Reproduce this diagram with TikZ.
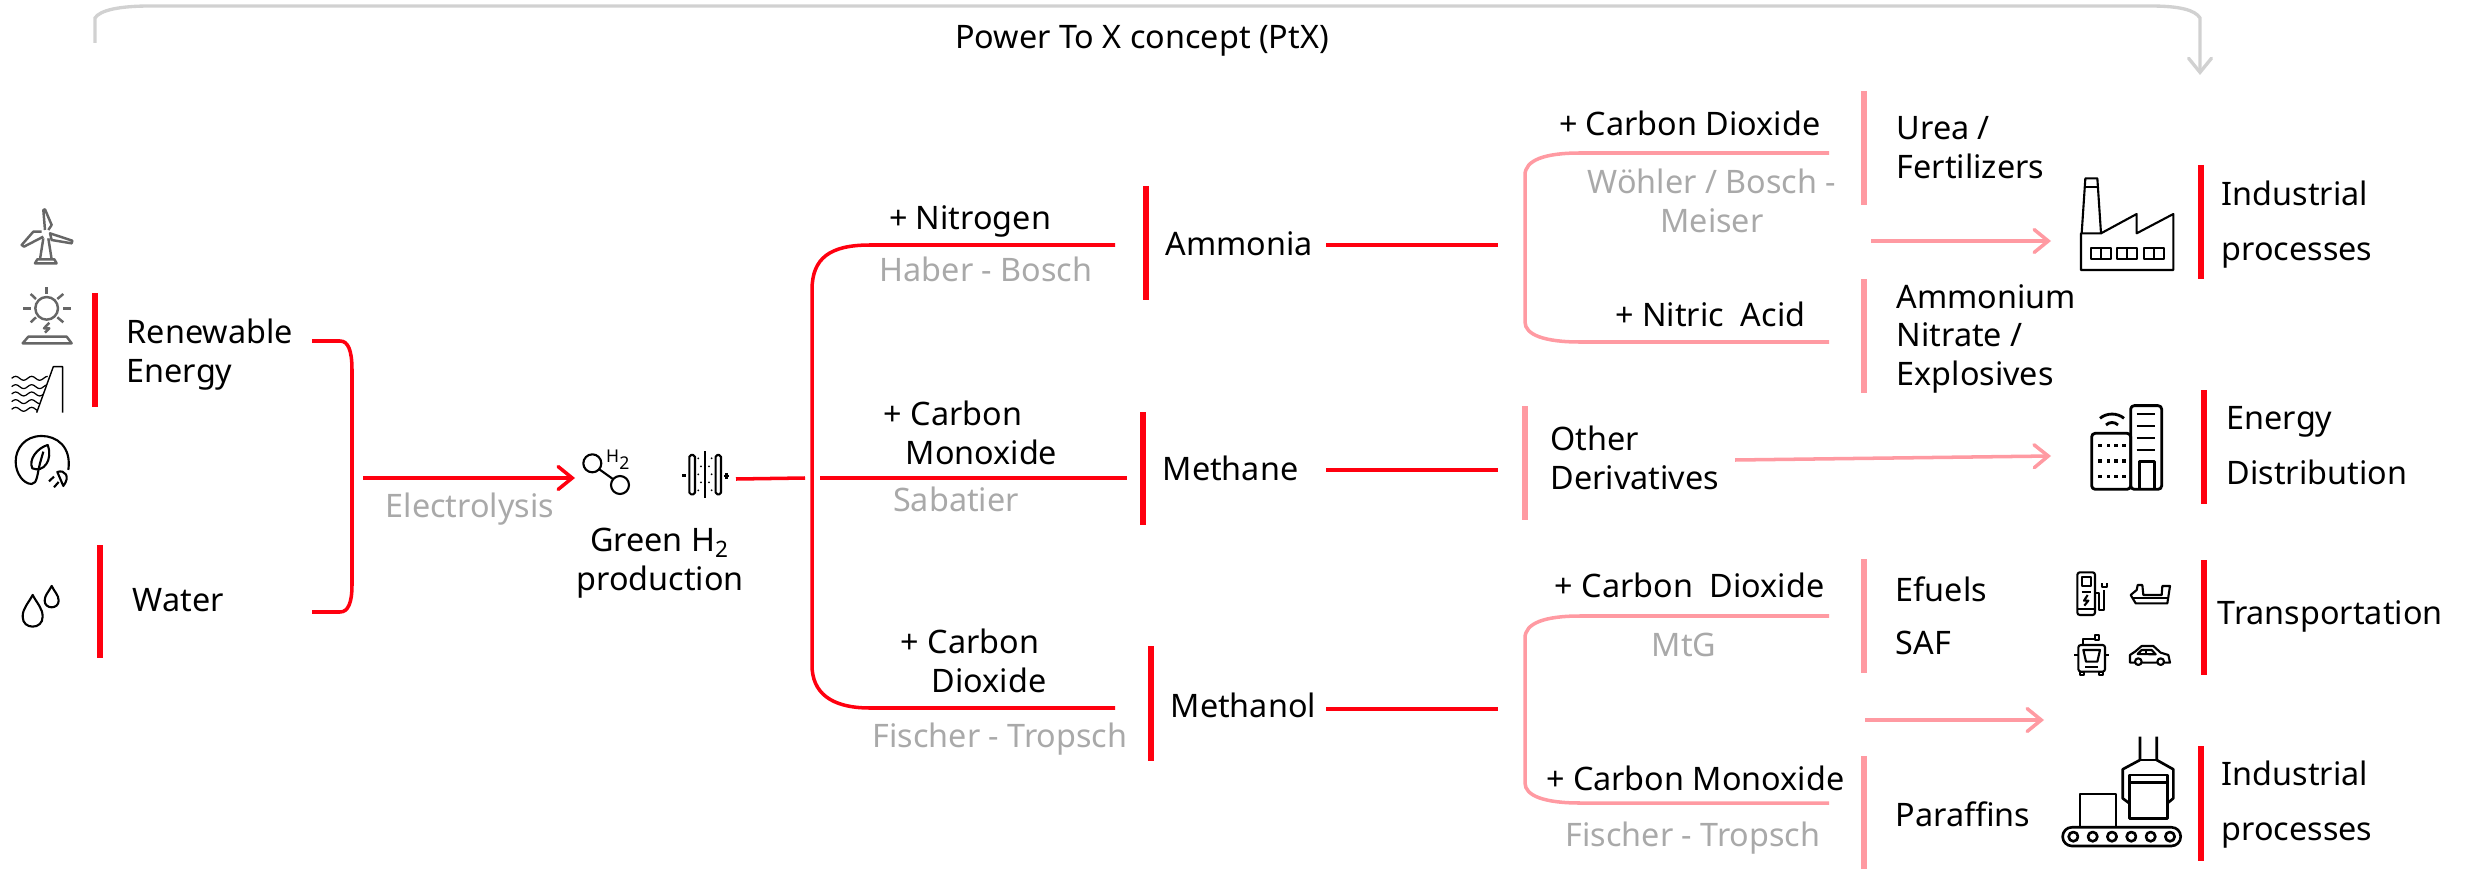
\documentclass[tikz,border=0pt]{standalone}
\usepackage{fontspec}
\setmainfont{Noto Sans}
\usetikzlibrary{arrows.meta}
\definecolor{abbred}{HTML}{FF000F}
\definecolor{abbpink}{HTML}{FF9AA2}
\definecolor{abbgray}{HTML}{A9A9A9}
\definecolor{abbicon}{HTML}{666666}
\tikzset{
  txt/.style={inner sep=0pt,anchor=west,align=left,text height=8pt,text depth=2pt,font=\fontsize{9.2}{11}\selectfont},
  wide/.style={font=\fontsize{9.2}{15.6}\selectfont},
  ctr/.style={txt,anchor=center,align=center},
  proc/.style={ctr,text=abbgray},
  redline/.style={draw=abbred,line width=1pt},
  pinkline/.style={draw=abbpink,line width=1pt},
  redbar/.style={draw=abbred,line width=1.7pt},
  pinkbar/.style={draw=abbpink,line width=1.7pt},
  barb/.style={-{Straight Barb[length=4pt,width=6.5pt,line cap=round]}},
  icon/.style={draw=black,line width=0.6pt,line join=round},
  grayicon/.style={draw=abbicon,line width=0.7pt,line join=round}
}
\begin{document}
\begin{tikzpicture}[x=0.01cm,y=-0.01cm]
\useasboundingbox (0,0) rectangle (2470,870);
% top bracket
\coordinate (ptxa) at (95,43);
\coordinate (ptxb) at (2200,75);
\draw[draw=black!18,line width=0.95pt,barb] (ptxa) -- (95,18) .. controls (100,10) and (120,6) .. (150,6) -- (2150,6) .. controls (2180,6) and (2195,10) .. (2200,18) -- (ptxb);
\node[ctr] (ptx) at (1142,38) {Power To X concept (PtX)};
% inputs
\draw[redbar] (95,293) -- (95,407);
\draw[redbar] (100,545) -- (100,658);
\node[txt] (renew) at (126,372) {Renewable\\Energy};
\node[txt] (water) at (132,601) {Water};
\coordinate (rena) at (312,341);
\coordinate (wata) at (312,612);
\draw[redline] (rena) -- (340,341) .. controls (348,341) and (352,350) .. (352,370) -- (352,585) .. controls (352,603) and (348,612) .. (340,612) -- (wata);
\coordinate (ela) at (363,478);
\coordinate (elb) at (575,478);
\draw[redline,barb] (ela) -- (elb);
\node[proc] (elec) at (470,507) {Electrolysis};
\node[ctr] (green) at (660,580) {Green H\textsubscript{2}\\production};
\coordinate (h2a) at (736,479);
\coordinate (h2b) at (805,478);
\draw[redline] (h2a) -- (h2b);
% main red fork
\coordinate (amma) at (1115,245);
\coordinate (meoa) at (1115,708);
\coordinate (mea) at (820,478);
\coordinate (meb) at (1127,478);
\draw[redline] (amma) -- (870,245) .. controls (830,245) and (812,258) .. (812,290) -- (812,665) .. controls (812,692) and (830,708) .. (870,708) -- (meoa);
\draw[redline] (mea) -- (meb);
\node[ctr] (nitro) at (970,219) {+ Nitrogen};
\node[proc] (haber) at (986,271) {Haber - Bosch};
\node[txt] (cmono) at (883,454) {+ Carbon\\\hspace*{0.22cm}Monoxide};
\node[proc] (saba) at (956,501) {Sabatier};
\node[txt] (cdio) at (900,682) {+ Carbon\\\hspace*{0.31cm}Dioxide};
\node[proc] (fisch) at (1000,737) {Fischer - Tropsch};
% products
\draw[redbar] (1146,186) -- (1146,300);
\draw[redbar] (1143,412) -- (1143,525);
\draw[redbar] (1151,646) -- (1151,761);
\node[txt] (amm) at (1165,245) {Ammonia};
\node[txt] (met) at (1162,470) {Methane};
\node[txt] (meo) at (1170,707) {Methanol};
\coordinate (amb) at (1326,245);
\coordinate (amc) at (1498,245);
\coordinate (mtb) at (1326,470);
\coordinate (mtc) at (1498,470);
\coordinate (mob) at (1326,709);
\coordinate (moc) at (1498,709);
\draw[redline] (amb) -- (amc);
\draw[redline] (mtb) -- (mtc);
\draw[redline] (mob) -- (moc);
% upper pink fork
\coordinate (urea) at (1829,153);
\coordinate (nita) at (1829,342);
\draw[pinkline] (urea) -- (1580,153) .. controls (1545,153) and (1525,160) .. (1525,175) -- (1525,322) .. controls (1525,335) and (1545,342) .. (1580,342) -- (nita);
\node[txt,anchor=east] (ucdio) at (1821,125) {+ Carbon Dioxide};
\node[proc] (wohl) at (1712,222) {Wöhler / Bosch -\\Meiser};
\node[txt,anchor=east] (nacid) at (1806,316) {+ Nitric\ \ Acid};
\draw[pinkbar] (1864,91) -- (1864,205);
\draw[pinkbar] (1864,279) -- (1864,393);
\node[txt] (ureat) at (1896,168) {Urea /\\Fertilizers};
\node[txt] (ammn) at (1896,375) {Ammonium\\Nitrate /\\Explosives};
\coordinate (upa) at (1871,241);
\coordinate (upb) at (2051,241);
\draw[pinkline,barb] (upa) -- (upb);
% other derivatives
\draw[pinkbar] (1525,406) -- (1525,520);
\node[txt] (other) at (1550,479) {Other\\Derivatives};
\coordinate (oda) at (1735,460);
\coordinate (odb) at (2051,456);
\draw[pinkline,barb] (oda) -- (odb);
% lower pink fork
\coordinate (efua) at (1829,616);
\coordinate (para) at (1829,803);
\draw[pinkline] (efua) -- (1580,616) .. controls (1545,616) and (1525,623) .. (1525,638) -- (1525,783) .. controls (1525,796) and (1545,803) .. (1580,803) -- (para);
\node[txt,anchor=east] (lcdio) at (1825,587) {+ Carbon\ \ Dioxide};
\node[proc] (mtg) at (1684,646) {MtG};
\node[txt,anchor=east] (lcmono) at (1845,780) {+ Carbon Monoxide};
\node[proc] (lfisch) at (1693,836) {Fischer - Tropsch};
\draw[pinkbar] (1864,559) -- (1864,673);
\draw[pinkbar] (1864,756) -- (1864,869);
\node[txt] (efuel) at (1895,591) {Efuels};
\node[txt] (saf) at (1895,644) {SAF};
\node[txt] (paraf) at (1895,816) {Paraffins};
\coordinate (loa) at (1865,720);
\coordinate (lob) at (2044,720);
\draw[pinkline,barb] (loa) -- (lob);
% end uses
\draw[redbar] (2201,165) -- (2201,279);
\draw[redbar] (2204,390) -- (2204,504);
\draw[redbar] (2204,560) -- (2204,675);
\draw[redbar] (2201,746) -- (2201,861);
\node[txt,wide] (indu) at (2221,250) {Industrial\\processes};
\node[txt,wide] (ener) at (2226,474) {Energy\\Distribution};
\node[txt] (trans) at (2217,614) {Transportation};
\node[txt,wide] (inde) at (2221,830) {Industrial\\processes};
% turbine, sun
\begin{scope}[shift={(0,180)},scale=0.3333]
\draw[grayicon] (135,150) -- (130,90) -- (135,88) -- (155,135) -- (145,150);
\draw[grayicon] (125,155) -- (100,155) -- (65,195) -- (72,200) -- (130,170);
\draw[grayicon] (150,160) -- (217,182) -- (215,190) -- (155,180) -- cycle;
\draw[grayicon] (130,175) -- (120,238);
\draw[grayicon] (145,175) -- (155,238);
\draw[grayicon] (105,250) -- (112,238) -- (163,238) -- (170,250) -- cycle;
\draw[grayicon] (140,385) circle (34);
\draw[grayicon] (140,322) -- (140,343);
\draw[grayicon] (70,385) -- (92,385);
\draw[grayicon] (190,385) -- (212,385);
\draw[grayicon] (92,342) -- (108,357);
\draw[grayicon] (190,342) -- (172,357);
\draw[grayicon] (92,427) -- (108,412);
\draw[grayicon] (190,427) -- (172,412);
\draw[grayicon] (148,428) -- (132,445) -- (148,445) -- (135,458);
\draw[grayicon] (85,470) -- (200,470) -- (215,490) -- (68,490) -- cycle;
% dam
\foreach \wy in {595,620,642,665,688} {
  \draw[icon,line width=0.35pt] (35,\wy) sin (47,\wy-6) cos (59,\wy) sin (71,\wy+6) cos (83,\wy) sin (95,\wy-6) cos (107,\wy) sin (119,\wy+6) cos (131,\wy) sin (143,\wy-6);
}
\fill[white] (110,698) -- (160,560) -- (188,560) -- (188,698) -- cycle;
\draw[icon,line width=0.4pt] (110,698) -- (160,560) -- (188,560) -- (188,698);
% leaf with plug
\draw[icon] (205,870) .. controls (215,800) and (170,768) .. (125,768) .. controls (75,768) and (47,805) .. (47,845) .. controls (47,880) and (70,912) .. (95,912) .. controls (112,912) and (112,880) .. (120,850) -- (130,815);
\draw[icon] (143,795) .. controls (110,805) and (85,840) .. (97,865) .. controls (130,880) and (160,840) .. (143,795) -- cycle;
\draw[icon] (172,876) .. controls (195,868) and (212,890) .. (190,918) -- cycle;
\draw[icon] (162,890) -- (147,904);
\draw[icon] (176,906) -- (162,922);
% drops
\draw[icon] (98,1245) .. controls (85,1270) and (68,1285) .. (68,1310) .. controls (68,1330) and (82,1340) .. (98,1340) .. controls (114,1340) and (128,1330) .. (128,1310) .. controls (128,1285) and (111,1270) .. (98,1245) -- cycle;
\draw[icon] (155,1218) .. controls (147,1235) and (134,1245) .. (134,1262) .. controls (134,1275) and (144,1282) .. (155,1282) .. controls (166,1282) and (176,1275) .. (176,1262) .. controls (176,1245) and (163,1235) .. (155,1218) -- cycle;
\end{scope}
% hydrogen and electrolyser
\begin{scope}[shift={(540,420)},scale=0.3333]
\draw[icon] (157,130) circle (27);
\draw[icon] (240,195) circle (27);
\draw[icon] (178,148) -- (220,178);
\node[inner sep=0pt,font=\fontsize{5}{5}\selectfont\bfseries] (hlab) at (236,120) {H\textsubscript{2}};
\draw[icon,rounded corners=0.5pt] (448,105) rectangle (465,223);
\draw[icon,rounded corners=0.5pt] (527,105) rectangle (543,223);
\draw[icon] (495,93) -- (495,235);
\foreach \dx/\dy in {475/115,475/163,475/211,483/139,483/187,515/115,515/163,515/211,507/139,507/187} {
  \fill (\dx,\dy) circle (3);
}
\draw[icon,line width=0.8pt] (427,167) -- (439,167);
\draw[icon,line width=0.8pt] (552,168) -- (568,168);
\draw[icon,line width=0.8pt] (560,160) -- (560,176);
\end{scope}
% factory and building
\begin{scope}[shift={(2040,150)},scale=0.3333]
\draw[icon] (125,250) -- (136,85) -- (172,85) -- (183,250) -- cycle;
\draw[icon] (134,112) -- (174,112);
\draw[icon] (183,250) -- (290,192) -- (290,250) -- (400,192) -- (400,360) -- (123,360) -- (123,250) -- (125,250);
\draw[icon] (152,295) rectangle (212,327);
\draw[icon] (182,295) -- (182,327);
\draw[icon] (232,295) rectangle (292,327);
\draw[icon] (262,295) -- (262,327);
\draw[icon] (312,295) rectangle (372,327);
\draw[icon] (342,295) -- (342,327);
\draw[icon,line width=0.8pt,rounded corners=1pt] (155,850) rectangle (272,1018);
\draw[icon,line width=0.8pt,rounded corners=1pt] (272,767) rectangle (365,1018);
\draw[icon,line width=0.8pt] (290,792) -- (345,792);
\draw[icon,line width=0.8pt] (290,828) -- (345,828);
\draw[icon,line width=0.8pt] (290,864) -- (345,864);
\draw[icon,line width=0.8pt] (290,900) -- (345,900);
\draw[icon,line width=0.8pt] (298,1018) -- (298,935) -- (343,935) -- (343,1018);
\foreach \dx in {180,205,228,252} {
  \foreach \dy in {887,933,980} {
    \fill (\dx-5,\dy-5) rectangle (\dx+5,\dy+5);
  }
}
\draw[icon,line width=0.8pt] (180,805) .. controls (200,788) and (232,788) .. (252,805);
\draw[icon,line width=0.8pt] (198,825) .. controls (208,815) and (224,815) .. (234,825);
\end{scope}
% transport and robot
\begin{scope}[shift={(2040,540)},scale=0.3333]
\draw[icon,rounded corners=0.7pt] (112,97) rectangle (165,225);
\draw[icon] (125,112) rectangle (152,137);
\draw[icon] (125,155) -- (152,155);
\draw[icon] (112,208) -- (165,208);
\draw[icon] (143,165) -- (132,182) -- (145,182) -- (133,197);
\draw[icon] (165,160) -- (178,160) -- (178,210) -- (192,210) -- (192,150);
\draw[icon] (185,130) -- (185,140) -- (200,140) -- (200,130);
\draw[icon] (272,165) -- (287,190) -- (382,190) -- (390,138) -- (367,138) -- (365,165) -- (310,165) -- (307,135) -- (293,135) -- (290,150) -- cycle;
\draw[icon] (280,175) -- (385,175);
\draw[icon,rounded corners=0.7pt] (115,315) rectangle (195,395);
\draw[icon] (130,330) -- (180,330) -- (172,365) -- (138,365) -- cycle;
\draw[icon] (135,380) -- (175,380);
\draw[icon] (120,395) rectangle (132,405);
\draw[icon] (178,395) rectangle (190,405);
\draw[icon] (103,345) -- (115,345);
\draw[icon] (195,345) -- (208,345);
\draw[icon] (130,315) -- (130,297) -- (165,297);
\draw[icon] (165,285) rectangle (178,300);
\draw[icon] (270,368) -- (270,345) -- (285,335) -- (305,318) -- (340,318) -- (362,338) -- (385,345) -- (390,368) -- cycle;
\draw[icon,fill=white] (295,365) circle (10);
\draw[icon,fill=white] (362,365) circle (10);
\draw[icon] (293,342) -- (305,330) -- (335,330) -- (347,343) -- cycle;
\draw[icon] (318,330) -- (318,343);
% robot
\draw[icon,line width=0.75pt,rounded corners=2.6pt] (68,862) rectangle (422,918);
\foreach \cx in {100,158,216,274,332,390} {
  \draw[icon,line width=0.75pt] (\cx,890) circle (14);
}
\draw[icon,line width=0.75pt] (120,862) -- (120,762) -- (228,762) -- (228,862);
\draw[icon,line width=0.75pt] (268,705) rectangle (382,835);
\draw[icon,line width=0.75pt] (268,727) -- (382,727);
\draw[icon,line width=0.75pt] (300,590) -- (300,660) -- (248,688) -- (248,775) -- (268,790);
\draw[icon,line width=0.75pt] (350,590) -- (350,660) -- (400,688) -- (400,775) -- (382,790);
\draw[icon,line width=0.75pt] (300,660) -- (350,660);
\end{scope}
\end{tikzpicture}
\end{document}
